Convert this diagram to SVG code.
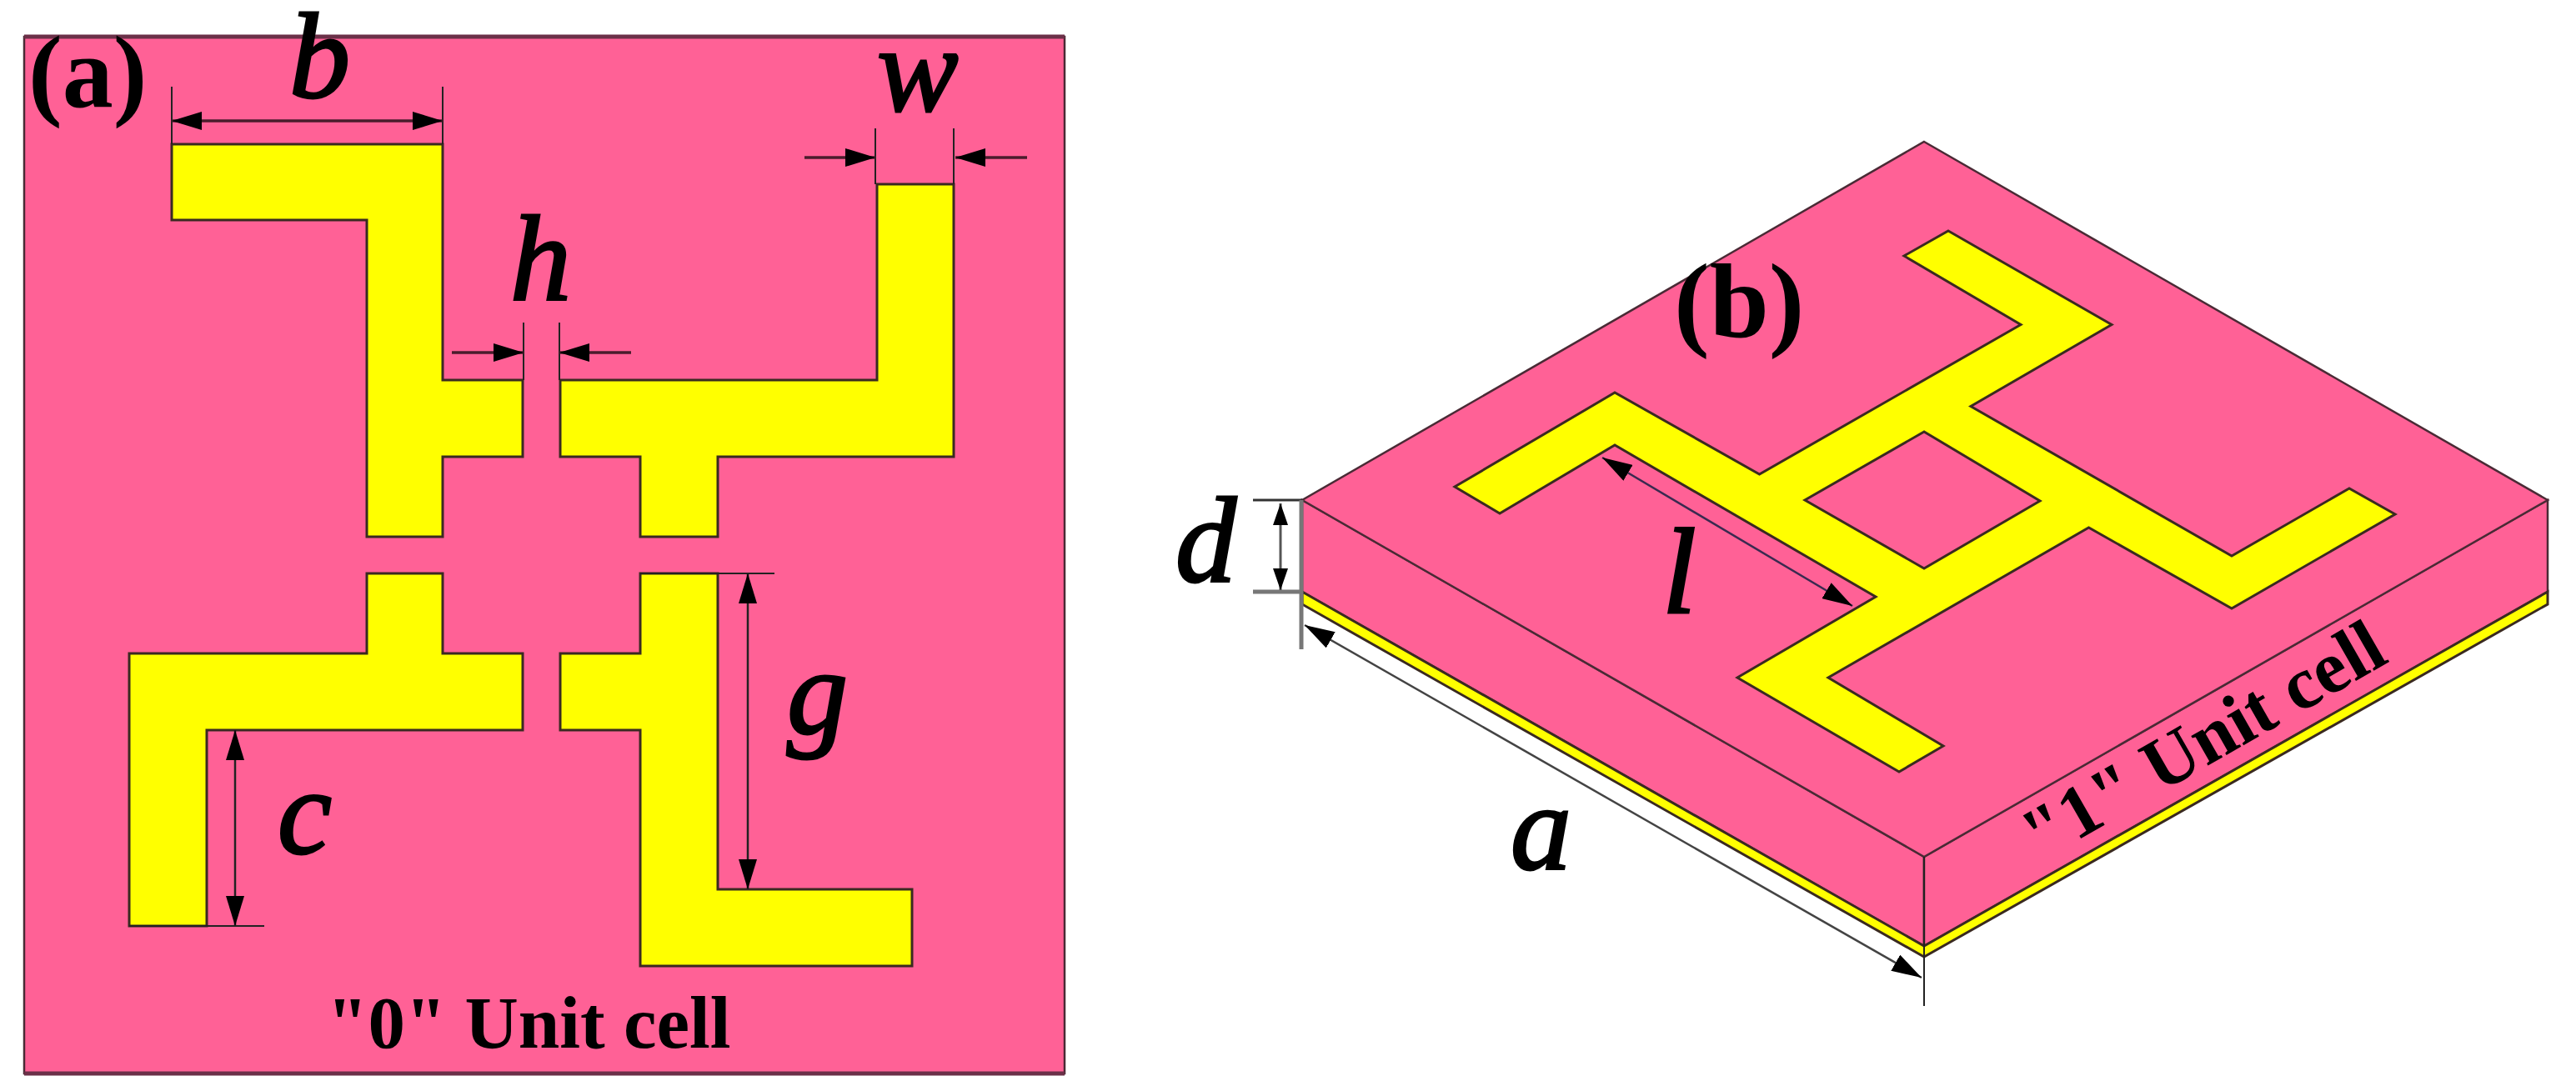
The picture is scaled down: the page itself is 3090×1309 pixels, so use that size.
<svg xmlns="http://www.w3.org/2000/svg" width="3090" height="1309" viewBox="0 0 3090 1309">
<style>
.p{fill:#FF6196;stroke:#4a2a35;stroke-width:2.5}
.y{fill:#FFFF00;stroke:#3a2a20;stroke-width:3;stroke-linejoin:miter}
.dt{stroke:#222;stroke-width:2.5;fill:none;marker-start:url(#ah);marker-end:url(#ah)}
.o{stroke:#4a1c2c;stroke-width:3.5;fill:none;marker-end:url(#ah)}
.e{stroke:#222;stroke-width:2;fill:none}
text{font-family:"Liberation Serif",serif;fill:#000}
.v{font-style:italic;font-size:146px;stroke:#000;stroke-width:3}
.l{font-weight:bold}
.u{font-weight:bold;font-size:89px}
</style>
<defs>
<marker id="ah" viewBox="0 0 36 22" refX="36" refY="11" markerWidth="36" markerHeight="22" markerUnits="userSpaceOnUse" orient="auto-start-reverse"><path d="M0,0L36,11L0,22z" fill="#000"/></marker>
<marker id="as" viewBox="0 0 26 18" refX="26" refY="9" markerWidth="26" markerHeight="18" markerUnits="userSpaceOnUse" orient="auto-start-reverse"><path d="M0,0L26,9L0,18z" fill="#000"/></marker>
</defs>
<rect width="3090" height="1309" fill="#fff"/>
<g id="cell-0">
<rect class="p" x="29" y="44" width="1248" height="1244"/>
<path fill="none" stroke="#6b3048" stroke-width="5" d="M29,44H1277M29,1288H1277"/>
<path class="y" d="M206,173H531V456H627V548H531V644H440V264H206Z"/>
<path class="y" d="M672,456H1052V221H1144V548H861V644H768V548H672Z"/>
<path class="y" d="M440,688H531V784H627V876H248V1111H155V784H440Z"/>
<path class="y" d="M768,688H861V1067H1094V1159H768V876H672V784H768Z"/>
</g>
<g id="cell-1">
<path class="p" d="M1562,600L2308,1028V1135L1562,710Z"/>
<path class="p" d="M3056,600L2308,1028V1135L3056,710Z"/>
<path class="y" stroke-width="2.5" d="M1562,710L2308,1135L3056,710V725L2308,1148L1562,725Z"/>
<path class="p" d="M2308,170L3056,600L2308,1028L1562,600Z"/>
<path class="y" d="M2337,277L2533,389.5L2364,487.5L2677,667L2818,586L2873,617L2677,730L2505.5,633L2193,813L2331,895L2278,926L2084,813L2250,716L1937,534L1799,616L1745,584L1937,471L2110.5,569L2424,389.5L2284,307ZM2308,518L2165,600L2308,682L2447,601Z" fill-rule="evenodd"/>
</g>
<g id="connectors">
<path class="e" d="M206,104V173M531,104V173M1050,154V221M1144,154V221M628,387V456M671,387V456M768,688H929M155,1111H317"/>
<line class="o" x1="206" y1="145" x2="531" y2="145" style="marker-start:url(#ah)"/>
<line class="o" x1="965" y1="189" x2="1050" y2="189"/>
<line class="o" x1="1232" y1="189" x2="1146" y2="189"/>
<line class="o" x1="542" y1="423" x2="628" y2="423"/>
<line class="o" x1="757" y1="423" x2="671" y2="423"/>
<line class="dt" x1="897" y1="688" x2="897" y2="1067"/>
<line class="dt" x1="282" y1="876" x2="282" y2="1111"/>
<path stroke="#333" stroke-width="3" fill="none" d="M1503,600H1562"/>
<path stroke="#777" stroke-width="5" fill="none" d="M1503,710H1562M1561,600V779"/>
<line class="dt" x1="1536" y1="604" x2="1536" y2="708" style="stroke:#555;stroke-width:3;marker-start:url(#as);marker-end:url(#as)"/>
<line class="dt" x1="1922" y1="549" x2="2222" y2="727" style="stroke:#3a2a50"/>
<path class="e" d="M2308,1028V1207"/>
<line class="dt" x1="1565" y1="750" x2="2305" y2="1173" style="stroke:#444"/>
</g>
<g id="labels">
<text class="l" x="34" y="128" font-size="122">(a)</text>
<text class="l" x="2008" y="404" font-size="128">(b)</text>
<text class="v" x="347" y="117">b</text>
<text class="v" x="1052" y="133">w</text>
<text class="v" x="612" y="360">h</text>
<text class="v" x="944" y="880">g</text>
<text class="v" x="333" y="1024">c</text>
<text class="v" x="1410" y="698">d</text>
<text class="v" x="1994" y="735">l</text>
<text class="v" x="1812" y="1043">a</text>
<text class="u" x="392" y="1257">"0" Unit cell</text>
<text class="u" transform="translate(2447,1034) rotate(-29.8)">"1" Unit cell</text>
</g>
</svg>
